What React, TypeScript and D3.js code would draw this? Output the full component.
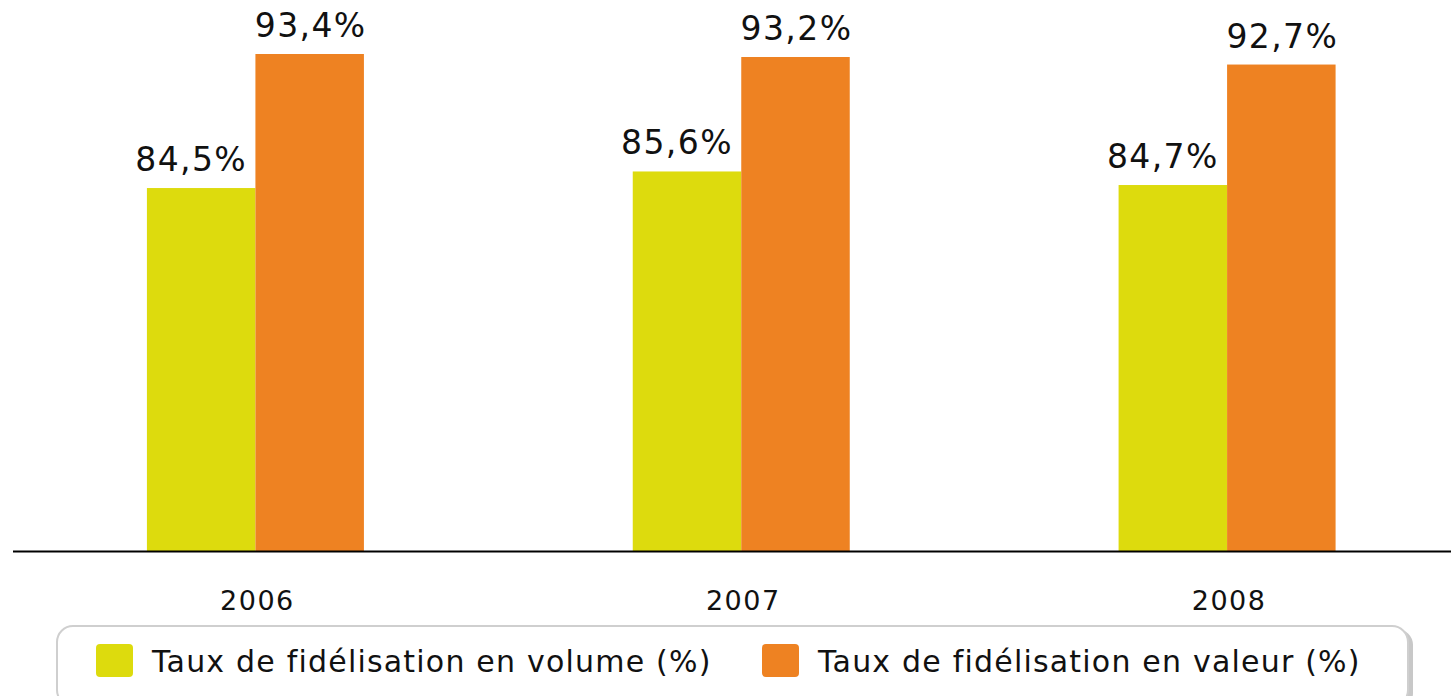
import React, { useEffect, useRef } from 'react';
import * as d3 from 'd3';

const years = ['2006', '2007', '2008'];
const seriesNames = ['Taux de fidélisation en volume (%)', 'Taux de fidélisation en valeur (%)'];
const volume = [84.5, 85.6, 84.7];
const valeur = [93.4, 93.2, 92.7];
const colors = ['#dddb0d', '#ee8222'];

const W = 1451, H = 696;

const App = () => {
  const ref = useRef(null);

  useEffect(() => {
    const svg = d3.select(ref.current);
    svg.selectAll('*').remove();

    const baseY = 551;
    // bottom of the value axis is not zero, the chart is cut
    const y = d3.scaleLinear().domain([60.4, 93.4]).range([baseY, 54]);
    const x = d3.scaleBand().domain(years).range([12.5, 1470]);
    const inner = d3.scaleBand().domain(['0', '1']).range([0, 217]);

    const data = years.map((yr, i) => ({ year: yr, vals: [volume[i], valeur[i]] }));

    const g = svg.append('g');
    const grp = g.selectAll('.grp').data(data).enter().append('g')
      .attr('transform', d => 'translate(' + (x(d.year) + x.bandwidth() / 2 - 108.5) + ',0)');

    grp.selectAll('rect')
      .data(d => d.vals)
      .enter().append('rect')
      .attr('x', (d, i) => inner(String(i)))
      .attr('y', d => y(d))
      .attr('width', inner.bandwidth())
      .attr('height', d => baseY - y(d))
      .attr('fill', (d, i) => colors[i]);

    grp.selectAll('.lbl')
      .data(d => d.vals)
      .enter().append('text')
      .attr('class', 'lbl')
      .attr('x', (d, i) => inner(String(i)) + inner.bandwidth() / 2 + (i === 0 ? -10 : 1))
      .attr('y', d => y(d) - 17)
      .attr('text-anchor', 'middle')
      .style('font-family', 'DejaVu Sans, Verdana, sans-serif')
      .style('font-size', '33px')
      .style('letter-spacing', '1.4px')
      .attr('fill', '#111')
      .text(d => d.toFixed(1).replace('.', ',') + '%');

    // axis line
    g.append('line')
      .attr('x1', 13).attr('x2', W)
      .attr('y1', baseY + 0.5).attr('y2', baseY + 0.5)
      .attr('stroke', '#000').attr('stroke-width', 2);

    g.selectAll('.yr').data(years).enter().append('text')
      .attr('x', d => x(d) + x.bandwidth() / 2 + 2)
      .attr('y', 610)
      .attr('text-anchor', 'middle')
      .style('font-family', 'DejaVu Sans, Verdana, sans-serif')
      .style('font-size', '27px')
      .style('letter-spacing', '1.5px')
      .attr('fill', '#111')
      .text(d => d);

    // legend
    const lg = svg.append('g');
    lg.append('rect')
      .attr('x', 60).attr('y', 629).attr('width', 1353).attr('height', 80)
      .attr('rx', 16).attr('fill', '#c8c8c8');
    lg.append('rect')
      .attr('x', 57).attr('y', 626).attr('width', 1351).attr('height', 80)
      .attr('rx', 16).attr('fill', '#fff')
      .attr('stroke', '#cfcfcf').attr('stroke-width', 2);

    const legX = [96, 762];
    seriesNames.forEach((name, i) => {
      lg.append('rect')
        .attr('x', legX[i]).attr('y', 644).attr('width', 37).attr('height', 33)
        .attr('rx', 4).attr('fill', colors[i]);
      lg.append('text')
        .attr('x', legX[i] + 56).attr('y', 672)
        .style('font-family', 'DejaVu Sans, Verdana, sans-serif')
        .style('font-size', '30px')
        .style('letter-spacing', '1.2px')
        .attr('fill', '#111')
        .text(name);
    });
  }, []);

  return (
    <svg ref={ref} width={W} height={H} style={{ position: 'absolute', left: 0, top: 0 }} />
  );
};

export default App;
